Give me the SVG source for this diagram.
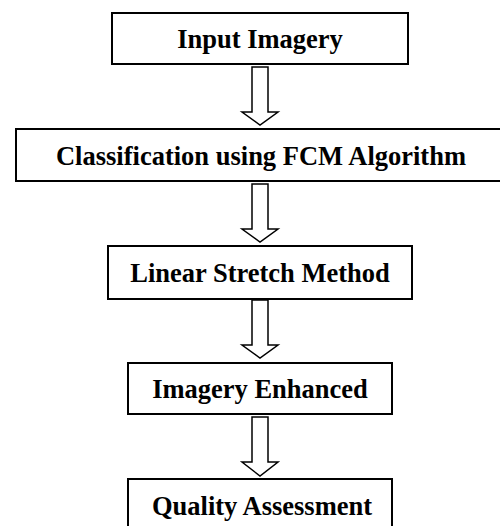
<svg xmlns="http://www.w3.org/2000/svg" width="500" height="526" viewBox="0 0 500 526">
<style>
.box{fill:#fff;stroke:#000;stroke-width:2}
.lbl{font-family:"Liberation Serif","Times New Roman",serif;font-weight:bold;font-size:26.5px;fill:#000;text-anchor:middle}
.arr{fill:#fff;stroke:#000;stroke-width:1.5;stroke-linejoin:miter}
</style>
<rect width="500" height="526" fill="#fff"/>
<g id="connectors">
<path class="arr" d="M252,67 H268 V112 H278 L260,125 L242,112 H252 Z"/>
<path class="arr" d="M252,184 H268 V229 H278 L260,242 L242,229 H252 Z"/>
<path class="arr" d="M252,300 H268 V345 H278 L260,358 L242,345 H252 Z"/>
<path class="arr" d="M252,417 H268 V462 H278 L260,476 L242,462 H252 Z"/>
</g>
<g id="n1"><rect class="box" x="112" y="13" width="296" height="51"/><text class="lbl" x="260" y="48">Input Imagery</text></g>
<g id="n2"><rect class="box" x="16" y="129" width="492" height="52"/><text class="lbl" x="261" y="165">Classification using FCM Algorithm</text></g>
<g id="n3"><rect class="box" x="108" y="246" width="304" height="53"/><text class="lbl" x="260" y="282">Linear Stretch Method</text></g>
<g id="n4"><rect class="box" x="128" y="363" width="264" height="51"/><text class="lbl" x="260" y="398">Imagery Enhanced</text></g>
<g id="n5"><rect class="box" x="128" y="479" width="264" height="52"/><text class="lbl" x="262" y="515">Quality Assessment</text></g>
</svg>
